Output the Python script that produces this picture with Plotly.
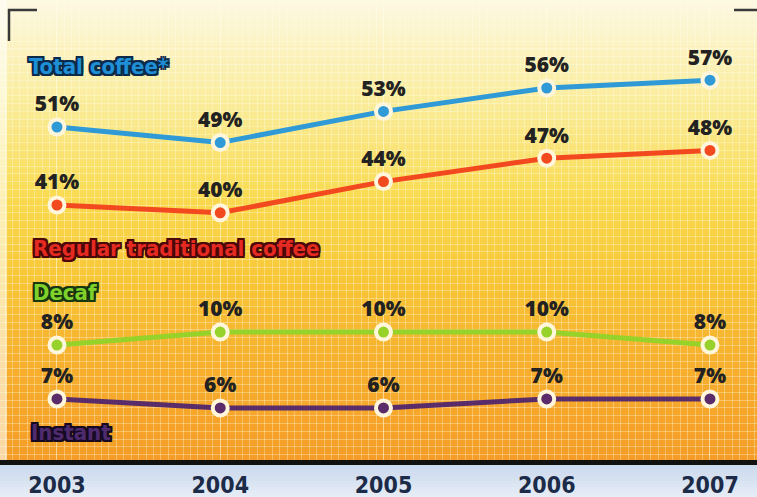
import plotly.graph_objects as go

years = [2003, 2004, 2005, 2006, 2007]
year_labels = ["2003", "2004", "2005", "2006", "2007"]
total_coffee = [51, 49, 53, 56, 57]
regular_coffee = [41, 40, 44, 47, 48]
decaf = [8, 10, 10, 10, 8]
instant = [7, 6, 6, 7, 7]
series_names = ["Total coffee*", "Regular traditional coffee", "Decaf", "Instant"]

W, H = 757, 497
B = 37
PH = H - B  # plot height in px

NARROW = "Liberation Sans Narrow, DejaVu Sans Condensed, Roboto Condensed, Roboto, sans-serif"

def hx(c):
    c = c.lstrip('#')
    return tuple(int(c[i:i+2], 16) for i in (0, 2, 4))

def lerp_color(stops, y):
    for (y0, c0), (y1, c1) in zip(stops, stops[1:]):
        if y0 <= y <= y1:
            t = (y - y0) / (y1 - y0) if y1 > y0 else 0
            a, b = hx(c0), hx(c1)
            return 'rgb(%d,%d,%d)' % tuple(round(a[i] + (b[i] - a[i]) * t) for i in range(3))
    return stops[-1][1]

bg_stops = [(0, '#fdf8e2'), (40, '#fcf3c6'), (120, '#faea8e'), (200, '#f9d94e'),
            (280, '#f8c637'), (350, '#f7b22e'), (460, '#f59c26')]

def py(y):
    return 1 - y / PH

def px(x):
    return x / W

shapes = []
step = 5
for y in range(0, PH, step):
    shapes.append(dict(type='rect', xref='paper', yref='paper', x0=0, x1=1,
                       y0=py(y + step + 0.5), y1=py(y), layer='below', line_width=0,
                       fillcolor=lerp_color(bg_stops, y + step / 2)))
# bottom blue band
blue_stops = [(0, '#c6d6ec'), (37, '#e6edf6')]
for i in range(0, B, 3):
    shapes.append(dict(type='rect', xref='paper', yref='paper', x0=0, x1=1,
                       y0=-(i + 3.5) / PH, y1=-i / PH, layer='below', line_width=0,
                       fillcolor=lerp_color(blue_stops, i + 1.5)))
# left pale strip
shapes.append(dict(type='rect', xref='paper', yref='paper', x0=0, x1=px(7),
                   y0=0, y1=1, layer='below', line_width=0,
                   fillcolor='rgba(255,255,250,0.6)'))
# corner marks
mark = dict(color='#3a3a3a', width=2.5)
shapes += [
    dict(type='line', xref='paper', yref='paper', x0=px(9), x1=px(9), y0=py(9), y1=py(41), line=mark),
    dict(type='line', xref='paper', yref='paper', x0=px(8), x1=px(37), y0=py(10), y1=py(10), line=mark),
    dict(type='line', xref='paper', yref='paper', x0=px(734), x1=1, y0=py(10), y1=py(10), line=mark),
]

fig = go.Figure()

colors = ['#2f9ad6', '#f2491f', '#97d22b', '#5a2c6a']
data = [total_coffee, regular_coffee, decaf, instant]
axes = ['y', 'y', 'y2', 'y3']
for vals, col, ax, name in zip(data, colors, axes, series_names):
    fig.add_trace(go.Scatter(
        x=years, y=vals, yaxis=ax, name=name,
        mode='lines+markers+text',
        text=[f"{v}%" for v in vals],
        textposition='top center',
        textfont=dict(family='Open Sans', size=21, color='#222222', weight=800),
        line=dict(color=col, width=5),
        marker=dict(size=15, color=col, line=dict(color='#fff6dc', width=4)),
        cliponaxis=False, showlegend=False,
    ))

def outline(c, w=2):
    offs = [(-w, -w), (0, -w), (w, -w), (-w, 0), (w, 0), (-w, w), (0, w), (w, w)]
    return ', '.join(f'{a}px {b}px 0 {c}' for a, b in offs)

label_style = [
    ('#1f8fd6', '#0c2a4a', 27, 67, 22),
    ('#e52a22', '#4a0808', 31, 248, 22),
    ('#7fd12b', '#173510', 31, 292, 22),
    ('#4e2a6e', '#160a22', 29, 432, 22),
]
annotations = []
for name, (fc, oc, lx, ly, fs) in zip(series_names, label_style):
    annotations.append(dict(
        text=name, xref='paper', yref='paper', x=px(lx), y=py(ly),
        xanchor='left', yanchor='middle', showarrow=False,
        font=dict(family=NARROW, size=fs, color=fc, weight=900,
                  shadow=outline(oc, 2)),
    ))

gridc = 'rgba(255,255,235,0.32)'
fig.update_layout(
    width=W, height=H,
    margin=dict(l=0, r=0, t=0, b=B),
    paper_bgcolor='#e6edf6', plot_bgcolor='rgba(0,0,0,0)',
    shapes=shapes, annotations=annotations,
    xaxis=dict(range=[2002.651, 2007.288], tickmode='array', tickvals=years, ticktext=year_labels,
               showline=True, linecolor='#111111', linewidth=5, ticks='', zeroline=False,
               tickfont=dict(family=NARROW, size=23, color='#1c2b48', weight='bold'),
               showgrid=True, gridcolor=gridc, gridwidth=1,
               minor=dict(tick0=2003, dtick=1 / 22, showgrid=True, gridcolor=gridc, gridwidth=1)),
    yaxis=dict(range=[8.31, 67.28], showticklabels=False, showgrid=True, dtick=1,
               gridcolor=gridc, gridwidth=1, zeroline=False, ticks=''),
    yaxis2=dict(range=[-9.69, 61.08], overlaying='y', visible=False),
    yaxis3=dict(range=[0.22, 51.33], overlaying='y', visible=False),
)

fig.write_html("out.html")
